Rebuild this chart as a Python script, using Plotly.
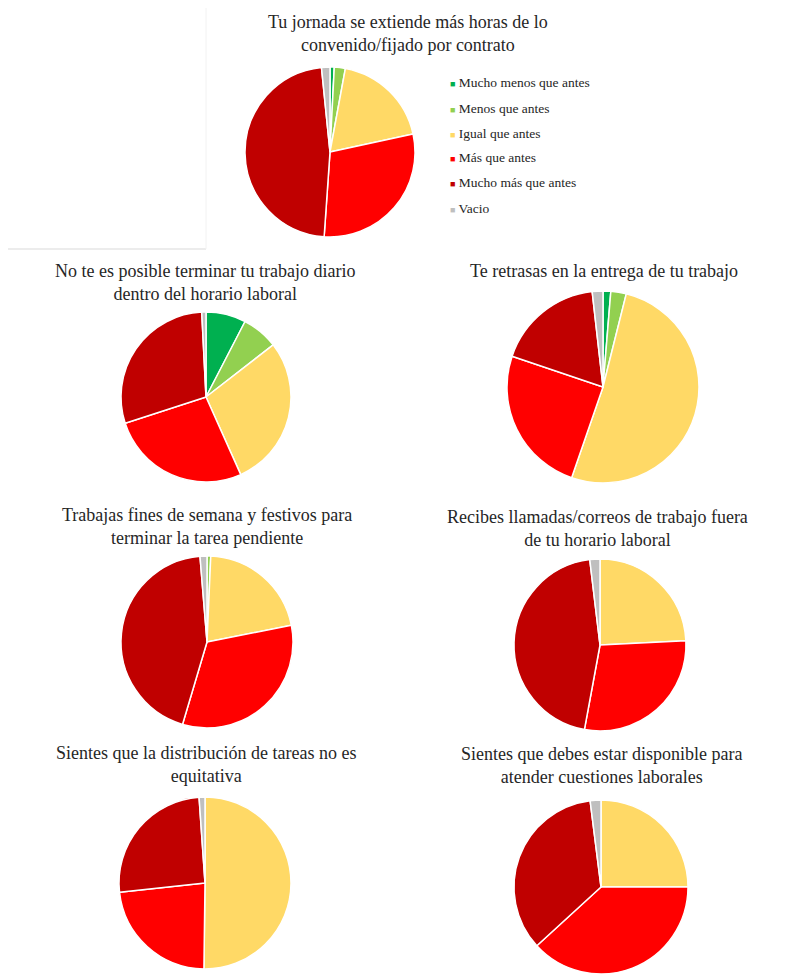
import plotly.graph_objects as go

# Categorías y colores
labels = ["Mucho menos que antes", "Menos que antes", "Igual que antes",
          "Más que antes", "Mucho más que antes", "Vacío"]
legend_labels = ["Mucho menos que antes", "Menos que antes", "Igual que antes",
                 "Más que antes", "Mucho más que antes", "Vacio"]
colors = ["#00B050", "#92D050", "#FFD966", "#FF0000", "#C00000", "#BFBFBF"]

jornada = [0.8, 2.1, 18.7, 29.5, 47.3, 1.6]
no_terminar = [7.6, 6.9, 28.8, 26.7, 29.2, 0.8]
retrasas = [1.3, 2.6, 51.4, 24.9, 18.0, 1.8]
fines_semana = [0.0, 0.7, 21.2, 32.7, 44.1, 1.3]
llamadas = [0.0, 0.0, 24.2, 28.7, 45.2, 1.9]
distribucion = [0.0, 0.0, 50.2, 23.1, 25.6, 1.1]
disponible = [0.0, 0.0, 25.0, 38.2, 34.8, 2.0]

titles = [
    "Tu jornada se extiende más horas de lo<br>convenido/fijado por contrato",
    "No te es posible terminar tu trabajo diario<br>dentro del horario laboral",
    "Te retrasas en la entrega de tu trabajo",
    "Trabajas fines de semana y festivos para<br>terminar la tarea pendiente",
    "Recibes llamadas/correos de trabajo fuera<br>de tu horario laboral",
    "Sientes que la distribución de tareas no es<br>equitativa",
    "Sientes que debes estar disponible para<br>atender cuestiones laborales",
]
series = [jornada, no_terminar, retrasas, fines_semana, llamadas, distribucion, disponible]

SERIF = "Times New Roman, Liberation Serif, DejaVu Serif, serif"
OFF = 8  # margen del body de la página
W, H = 785 - OFF, 979 - OFF
# (centro x, centro y, radio) en píxeles de pantalla; (x título, y título)
pies = [(330, 152, 85), (206, 397, 85), (603, 387, 96), (207, 642, 86),
        (600, 645, 86), (205, 883, 86), (601, 887, 87)]
title_pos = [(408, 10), (205, 259), (604, 259), (207, 503), (597, 505), (206, 741), (601, 742)]


def px(x):
    return (x - OFF) / W


def py(y):
    return 1 - (y - OFF) / H


fig = go.Figure()
for vals, (cx, cy, r) in zip(series, pies):
    fig.add_trace(go.Pie(
        labels=labels, values=vals, sort=False, direction="clockwise", rotation=0,
        marker=dict(colors=colors, line=dict(color="white", width=1.5)),
        textinfo="none", hoverinfo="label+percent", showlegend=False,
        domain=dict(x=[px(cx - r), px(cx + r)], y=[py(cy + r), py(cy - r)]),
    ))

annotations = []
for t, (tx, ty) in zip(titles, title_pos):
    annotations.append(dict(
        text=t, x=px(tx), y=py(ty), xref="paper", yref="paper",
        xanchor="center", yanchor="top", showarrow=False,
        font=dict(family=SERIF, size=18, color="#262626"),
    ))

# Leyenda manual (marcador pegado al texto, como en el original)
for i, (lab, col) in enumerate(zip(legend_labels, colors)):
    annotations.append(dict(
        text=f"<span style='color:{col};font-size:9px'>■</span> {lab}",
        x=px(448), y=py(83 + 25 * i), xref="paper", yref="paper",
        xanchor="left", yanchor="middle", showarrow=False,
        font=dict(family=SERIF, size=13.5, color="#262626"),
    ))

fig.update_layout(
    width=W, height=H, margin=dict(l=0, r=0, t=0, b=0),
    paper_bgcolor="white", plot_bgcolor="white",
    font=dict(family=SERIF),
    annotations=annotations,
    shapes=[
        dict(type="line", xref="paper", yref="paper", x0=px(8), x1=px(206),
             y0=py(249), y1=py(249), line=dict(color="#D9D9D9", width=1)),
        dict(type="line", xref="paper", yref="paper", x0=px(206), x1=px(206),
             y0=py(249), y1=1, line=dict(color="#F2F2F2", width=1)),
    ],
)
fig.write_html("out.html")
